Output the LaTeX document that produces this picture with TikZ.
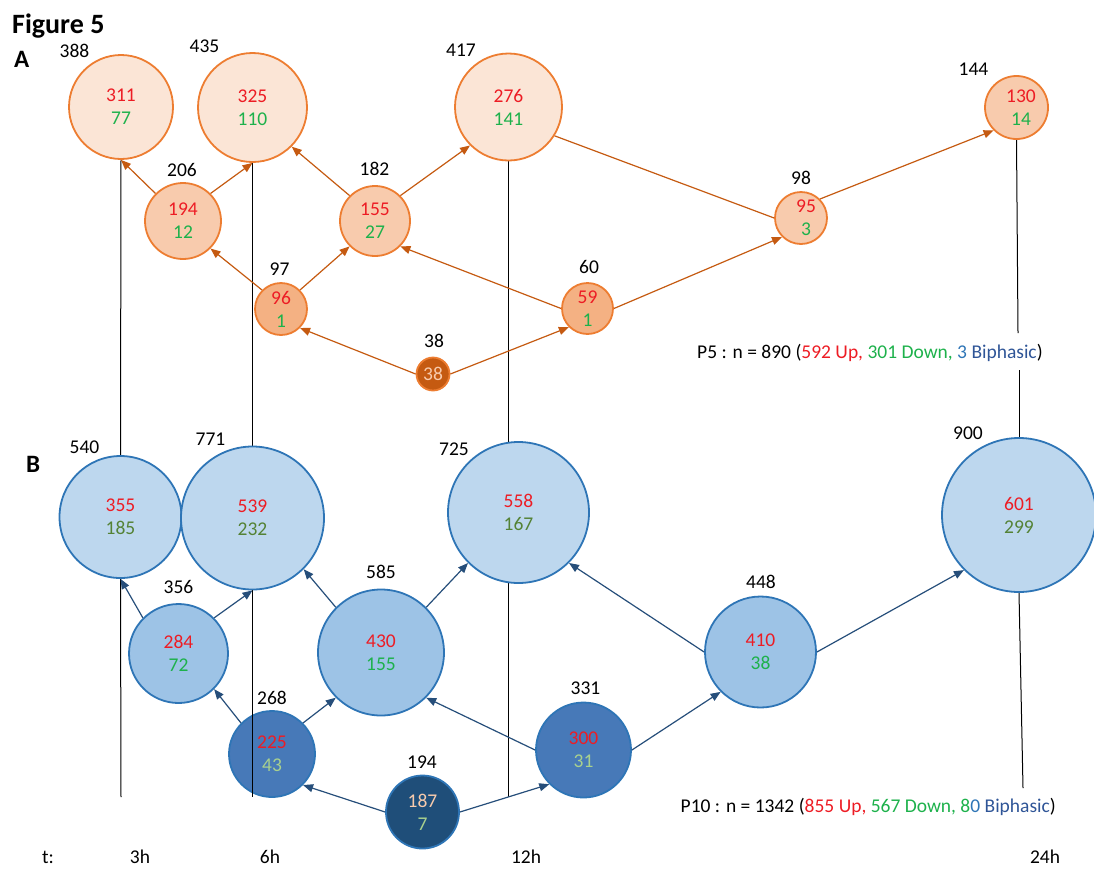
\documentclass[tikz,border=0pt]{standalone}
\usepackage{fontspec}
\setmainfont{Carlito}
\usetikzlibrary{arrows.meta}
\pgfdeclarelayer{background}
\pgfsetlayers{background,main}
\definecolor{oStroke}{HTML}{ED7D31}
\definecolor{oArrow}{HTML}{C55A11}
\definecolor{oFillL}{HTML}{FBE5D6}
\definecolor{oFillM}{HTML}{F8CBAD}
\definecolor{oFillD}{HTML}{F4B183}
\definecolor{oFillX}{HTML}{C55A11}
\definecolor{bStroke}{HTML}{2E75B6}
\definecolor{bArrow}{HTML}{264E7A}
\definecolor{bFillL}{HTML}{BDD7EE}
\definecolor{bFillM}{HTML}{9DC3E6}
\definecolor{bFillD}{HTML}{4779B8}
\definecolor{bFillX}{HTML}{1F4E79}
\definecolor{cRed}{HTML}{ED1C24}
\definecolor{cGrn}{HTML}{1DB14B}
\definecolor{cDGrn}{HTML}{548235}
\definecolor{cLGrn}{HTML}{A9D18E}
\definecolor{cPeach}{HTML}{F8CBAD}
\definecolor{cBlue}{HTML}{2E75B6}
\definecolor{cDBlue}{HTML}{2F5597}
\newcommand\tR[1]{\textcolor{cRed}{#1}}
\newcommand\tG[1]{\textcolor{cGrn}{#1}}
\newcommand\tDG[1]{\textcolor{cDGrn}{#1}}
\newcommand\tLG[1]{\textcolor{cLGrn}{#1}}
\newcommand\tP[1]{\textcolor{cPeach}{#1}}
\begin{document}
\begin{tikzpicture}[x=1pt,y=-1pt,
  every node/.style={font=\fontsize{19.5}{23}\selectfont, inner sep=0pt},
  circ/.style={circle, draw, line width=1.8pt, align=center},
  oL/.style={circ, draw=oStroke, fill=oFillL},
  oM/.style={circ, draw=oStroke, fill=oFillM},
  oD/.style={circ, draw=oStroke, fill=oFillD},
  oX/.style={circ, draw=oStroke, fill=oFillX},
  bL/.style={circ, draw=bStroke, fill=bFillL},
  bM/.style={circ, draw=bStroke, fill=bFillM},
  bD/.style={circ, draw=bStroke, fill=bFillD},
  bX/.style={circ, draw=bStroke, fill=bFillX},
  lbl/.style={anchor=base, text=black},
  oarr/.style={draw=oArrow, line width=1.2pt, -{Triangle[length=10pt,width=8pt]}},
  oline/.style={draw=oArrow, line width=1.2pt},
  barr/.style={draw=bArrow, line width=1.2pt, -{Triangle[length=10pt,width=8pt]}},
  vline/.style={draw=black, line width=1pt},
  ttl/.style={anchor=base west, font=\bfseries\fontsize{28}{30}\selectfont},
  sec/.style={anchor=base west, font=\bfseries\fontsize{25}{30}\selectfont},
]
\useasboundingbox (0,0) rectangle (1094,868);

% ---- titles ----
\node[ttl] (title) at (12,33) {Figure 5};
\node[sec] (secA) at (14,67) {A};
\node[sec] (secB) at (26,472) {B};

% ---- panel A circles ----
\node[oL, minimum size=104pt] (A1) at (121,107) {\tR{311}\\\tG{77}};
\node[oL, minimum size=109pt] (A2) at (252.5,107.5) {\tR{325}\\\tG{110}};
\node[oM, minimum size=76pt] (A3) at (183,221) {\tR{194}\\\tG{12}};
\node[oL, minimum size=107pt] (A5) at (508.5,107) {\tR{276}\\\tG{141}};
\node[oM, minimum size=70pt] (A6) at (375,221) {\tR{155}\\\tG{27}};
\node[oD, minimum size=52pt] (A7) at (281,309) {\tR{96}\\\tG{1}};
\node[oD, minimum size=51pt] (A8) at (587.5,308.5) {\tR{59}\\\tG{1}};
\node[oX, minimum size=33pt] (A9) at (433,374) {\tP{38}};
\node[oM, minimum size=52pt] (A10) at (801,218) {\hspace*{10pt}\tR{95}\\\hspace*{10pt}\tG{3}};
\node[oM, minimum size=63pt] (A11) at (1016.5,107.5) {\hspace*{9pt}\tR{130}\\\hspace*{9pt}\tG{14}};

% ---- panel A labels ----
\node[lbl] (lA1) at (74.5,57) {388};
\node[lbl] (lA2) at (204.5,52) {435};
\node[lbl] (lA5) at (461,56) {417};
\node[lbl] (lA3) at (182,176) {206};
\node[lbl] (lA6) at (374.5,175) {182};
\node[lbl] (lA7) at (279.5,275) {97};
\node[lbl] (lA8) at (589,273) {60};
\node[lbl] (lA9) at (434,347) {38};
\node[lbl] (lA10) at (801,184) {98};
\node[lbl] (lA11) at (973.5,75) {144};

% ---- panel B circles ----
\node[bL, minimum size=122pt] (B1) at (120.5,517) {\tR{355}\\\tDG{185}};
\node[bL, minimum size=143pt] (B2) at (252.5,518) {\tR{539}\\\tDG{232}};
\node[bM, minimum size=99pt] (B3) at (178.5,653.5) {\tR{284}\\\tG{72}};
\node[bM, minimum size=126pt] (B4) at (381,652.5) {\tR{430}\\\tG{155}};
\node[bL, minimum size=141pt] (B5) at (518.5,512.5) {\tR{558}\\\tDG{167}};
\node[bM, minimum size=111pt] (B6) at (760.5,652) {\tR{410}\\\tG{38}};
\node[bL, minimum size=154pt] (B7) at (1019,515) {\tR{601}\\\tDG{299}};
\node[bD, minimum size=86pt] (B8) at (272,754) {\tR{225}\\\tLG{43}};
\node[bX, minimum size=73pt] (B9) at (422.5,812) {\tP{187}\\\tLG{7}};
\node[bD, minimum size=95pt] (B10) at (583.5,750) {\tR{300}\\\tLG{31}};

% ---- panel B labels ----
\node[lbl] (lB1) at (84.5,453) {540};
\node[lbl] (lB2) at (210.5,445) {771};
\node[lbl] (lB3) at (178.5,593) {356};
\node[lbl] (lB4) at (381,578.5) {585};
\node[lbl] (lB5) at (454,455) {725};
\node[lbl] (lB6) at (761,588) {448};
\node[lbl] (lB7) at (968,439) {900};
\node[lbl] (lB8) at (272,704) {268};
\node[lbl] (lB9) at (422,768) {194};
\node[lbl] (lB10) at (585.5,694) {331};

% ---- legends ----
\node[anchor=base west] (P5) at (697,358) {P5 : n = 890 (\tR{592 Up,} \tG{301 Down,} \textcolor{cBlue}{3} \textcolor{cDBlue}{Biphasic})};
\node[anchor=base west] (P10) at (680.5,812) {P10 : n = 1342 (\tR{855 Up,} \tG{567 Down, 8}\textcolor{cBlue}{0} \textcolor{cDBlue}{Biphasic})};

% ---- time axis ----
\node[lbl] (tt) at (48,863) {t:};
\node[lbl] (t3) at (140,863) {3h};
\node[lbl] (t6) at (270,863) {6h};
\node[lbl] (t12) at (526,863) {12h};
\node[lbl] (t24) at (1045,863) {24h};

% ---- line end coordinates ----
\coordinate (e1) at (121,797);
\coordinate (e2) at (252.5,797);
\coordinate (e3) at (508.5,797);
\coordinate (g4a) at (1018,333);
\coordinate (g4b) at (1019,370);
\coordinate (e4) at (1023,788);

% ---- vertical time lines ----
\begin{pgfonlayer}{background}
\draw[vline] (A1.south) -- (B1.north);
\draw[vline] (B1.south) -- (e1);
\draw[vline] (A2.south) -- (B2.north);
\draw[vline] (A5.south) -- (e3);
\draw[vline] (A11.south) -- (g4a);
\draw[vline] (g4b) -- (B7.north);
\draw[vline] (B7.south) -- (e4);
\end{pgfonlayer}
\draw[vline] (B2.south) -- (e2);

% ---- panel A arrows ----
\draw[oarr] (A3.north west) -- (A1.south);
\draw[oarr] (A3.north east) -- (A2.south);
\draw[oarr] (A6.north west) -- (A2.south east);
\draw[oarr] (A6.north east) -- (A5.south west);
\draw[oarr] (A7.north west) -- (A3.south east);
\draw[oarr] (A7.north east) -- (A6.south west);
\draw[oarr] (A8.west) -- (A6.south east);
\draw[oarr] (A9.west) -- (A7.south east);
\draw[oarr] (A9.east) -- (A8.south west);
\draw[oarr] (A8.east) -- (A10.south west);
\draw[oline] (A5.-32) -- (A10.west);
\draw[oarr] (A10.north east) -- (A11.south west);

% ---- panel B arrows ----
\draw[barr] (B3.north west) -- (B1.south);
\draw[barr] (B3.north east) -- (B2.south);
\draw[barr] (B8.north west) -- (B3.south east);
\draw[barr] (B8.north east) -- (B4.south west);
\draw[barr] (B4.north west) -- (B2.south east);
\draw[barr] (B4.north east) -- (B5.south west);
\draw[barr] (B10.west) -- (B4.south east);
\draw[barr] (B9.west) -- (B8.south east);
\draw[barr] (B9.east) -- (B10.south west);
\draw[barr] (B10.east) -- (B6.south west);
\draw[barr] (B6.west) -- (B5.south east);
\draw[barr] (B6.east) -- (B7.south west);
\end{tikzpicture}
\end{document}
